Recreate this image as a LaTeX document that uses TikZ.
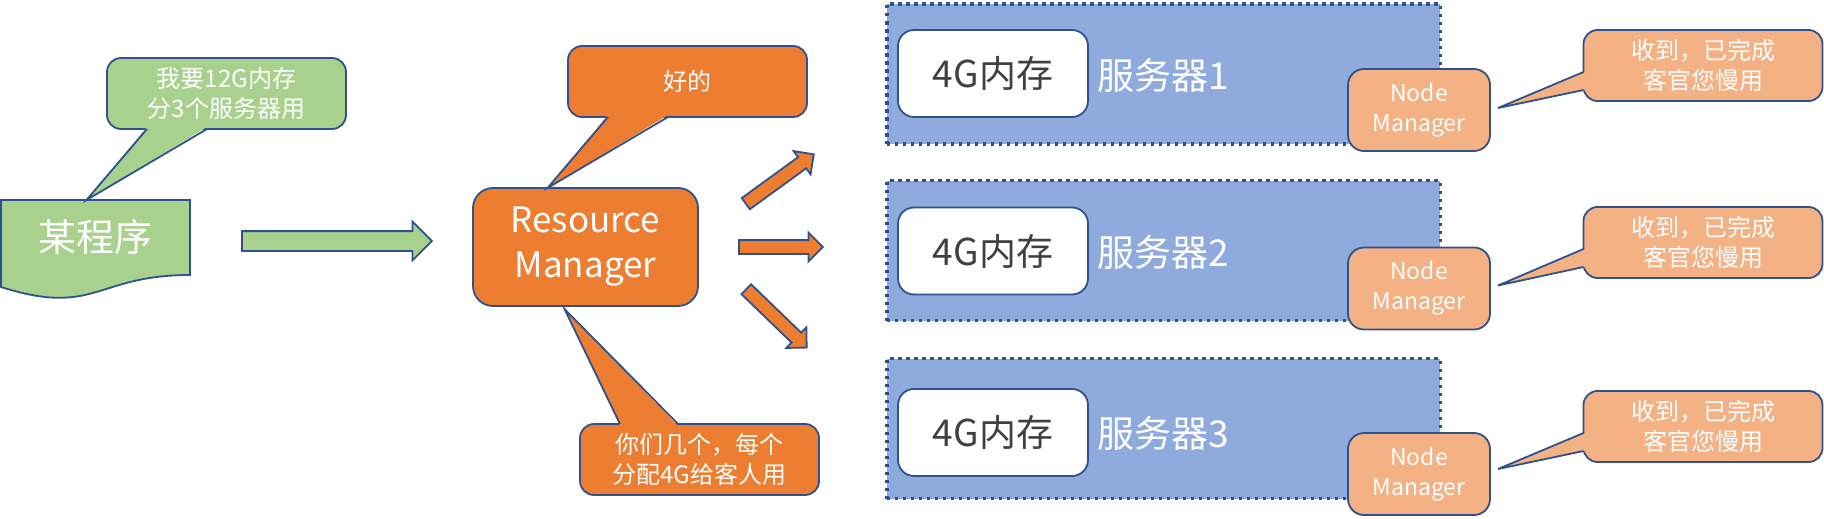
\documentclass[tikz,border=0pt]{standalone}
\usepackage{fontspec}
\setmainfont{Noto Sans CJK SC}
\usetikzlibrary{shapes.arrows}
\definecolor{bord}{HTML}{2F528F}
\definecolor{greenfill}{HTML}{A9D18E}
\definecolor{orangefill}{HTML}{ED7D31}
\definecolor{peach}{HTML}{F4B183}
\definecolor{bluefill}{HTML}{8FAADC}
\definecolor{memgray}{HTML}{404040}

\begin{document}
\begin{tikzpicture}[x=1pt,y=1pt,
  edge/.style={draw=bord,line width=1.8pt},
  bubble/.style={edge,rounded corners=14pt,minimum width=239pt,minimum height=71pt,text=white,align=center,font=\fontsize{24}{30}\selectfont},
  tail/.style={edge},
  card/.style={edge,rounded corners=16pt},
  server/.style={fill=bluefill,draw=bord,line width=3.5pt,dash pattern=on 3.5pt off 4.5pt,minimum width=553.5pt,minimum height=140pt},
  memcard/.style={card,fill=white,minimum width=190pt,minimum height=87pt,text=memgray,font=\fontsize{37}{42}\selectfont},
  srvlabel/.style={anchor=west,text=white,font=\fontsize{37}{42}\selectfont},
  nmcard/.style={card,fill=peach,minimum width=142pt,minimum height=82pt,text=white,align=center,font=\fontsize{23}{30}\selectfont},
  blockarrow/.style={edge,single arrow,single arrow head indent=0pt,minimum width=0pt}]
\tikzstyle{every node}+=[inner sep=0pt,outer sep=0pt]
\useasboundingbox (0,0) rectangle (1824,-519);
% the program
\node[minimum width=189pt,minimum height=75pt] (prog) at (95.5,-237.5) {};
\draw[edge,fill=greenfill] (prog.north west) -- (prog.north east) -- (prog.south east) .. controls (prog.south) and ([yshift=-42pt]prog.south) .. ([yshift=-12pt]prog.south west) -- cycle;
\node[text=white,font=\fontsize{38}{44}\selectfont] (progtext) at (prog) {某程序};
\node[bubble,fill=greenfill] (ask) at (226.5,-93.5) {我要12G内存\\分3个服务器用};
\fill[greenfill] ([xshift=40pt,yshift=2pt]ask.south west) -- ([xshift=-9pt]prog.north) -- ([xshift=100pt,yshift=2pt]ask.south west) -- cycle;
\draw[tail] ([xshift=40pt]ask.south west) -- ([xshift=-9pt]prog.north) -- ([xshift=100pt]ask.south west);
\node[blockarrow,fill=greenfill,minimum height=190pt,single arrow head extend=9.5pt] (go) at (332,-241) {\rule{0pt}{18pt}};
% resource manager
\node[card,fill=orangefill,rounded corners=20pt,minimum width=225pt,minimum height=118pt,text=white,align=center,font=\fontsize{35}{45}\selectfont] (rm) at (585.5,-247) {Resource\\Manager};
\node[bubble,fill=orangefill] (ok) at (687.5,-81.5) {好的};
\fill[orangefill] ([xshift=40pt,yshift=2pt]ok.south west) -- ([xshift=-38pt]rm.north) -- ([xshift=100pt,yshift=2pt]ok.south west) -- cycle;
\draw[tail] ([xshift=40pt]ok.south west) -- ([xshift=-38pt]rm.north) -- ([xshift=100pt]ok.south west);
\node[bubble,fill=orangefill] (split) at (699.5,-459.5) {你们几个，每个\\分配4G给客人用};
\fill[orangefill] ([xshift=40pt,yshift=-2pt]split.north west) -- ([xshift=-21pt,yshift=-3pt]rm.south) -- ([xshift=98pt,yshift=-2pt]split.north west) -- cycle;
\draw[tail] ([xshift=40pt]split.north west) -- ([xshift=-21pt,yshift=-3pt]rm.south) -- ([xshift=98pt]split.north west);
\node[blockarrow,fill=orangefill,minimum height=84pt,single arrow head extend=7.5pt,rotate=36] (toup) at (777,-181) {\rule{0pt}{12pt}};
\node[blockarrow,fill=orangefill,minimum height=84pt,single arrow head extend=7.5pt] (tomid) at (777.5,-247) {\rule{0pt}{12pt}};
\node[blockarrow,fill=orangefill,minimum height=84pt,single arrow head extend=7.5pt,rotate=-44] (todown) at (774,-316) {\rule{0pt}{12pt}};
% server 1
\node[server] (srv1) at (1163.5,-74) {};
\node[memcard] (mem1) at (993,-73.5) {4G内存};
\node[srvlabel] (lbl1) at (1097,-75) {服务器1};
\node[nmcard] (nm1) at (1419,-110) {Node\\Manager};
\node[bubble,fill=peach] (rep1) at (1703,-65.5) {收到，已完成\\客官您慢用};
\fill[peach] ([xshift=2pt,yshift=-42pt]rep1.north west) -- ([xshift=8pt,yshift=2pt]nm1.east) -- ([xshift=2pt,yshift=-60pt]rep1.north west) -- cycle;
\draw[tail] ([yshift=-42pt]rep1.north west) -- ([xshift=8pt,yshift=2pt]nm1.east) -- ([yshift=-60pt]rep1.north west);
% server 2
\node[server] (srv2) at (1163.5,-250.5) {};
\node[memcard] (mem2) at (993,-251) {4G内存};
\node[srvlabel] (lbl2) at (1097,-252) {服务器2};
\node[nmcard] (nm2) at (1419,-288.5) {Node\\Manager};
\node[bubble,fill=peach] (rep2) at (1703,-242.5) {收到，已完成\\客官您慢用};
\fill[peach] ([xshift=2pt,yshift=-42pt]rep2.north west) -- ([xshift=8pt,yshift=3pt]nm2.east) -- ([xshift=2pt,yshift=-60pt]rep2.north west) -- cycle;
\draw[tail] ([yshift=-42pt]rep2.north west) -- ([xshift=8pt,yshift=3pt]nm2.east) -- ([yshift=-60pt]rep2.north west);
% server 3
\node[server] (srv3) at (1163.5,-428.5) {};
\node[memcard] (mem3) at (993,-432.5) {4G内存};
\node[srvlabel] (lbl3) at (1097,-433) {服务器3};
\node[nmcard] (nm3) at (1419,-474) {Node\\Manager};
\node[bubble,fill=peach] (rep3) at (1703,-426.5) {收到，已完成\\客官您慢用};
\fill[peach] ([xshift=2pt,yshift=-42pt]rep3.north west) -- ([xshift=8pt,yshift=5pt]nm3.east) -- ([xshift=2pt,yshift=-60pt]rep3.north west) -- cycle;
\draw[tail] ([yshift=-42pt]rep3.north west) -- ([xshift=8pt,yshift=5pt]nm3.east) -- ([yshift=-60pt]rep3.north west);
\end{tikzpicture}
\end{document}
